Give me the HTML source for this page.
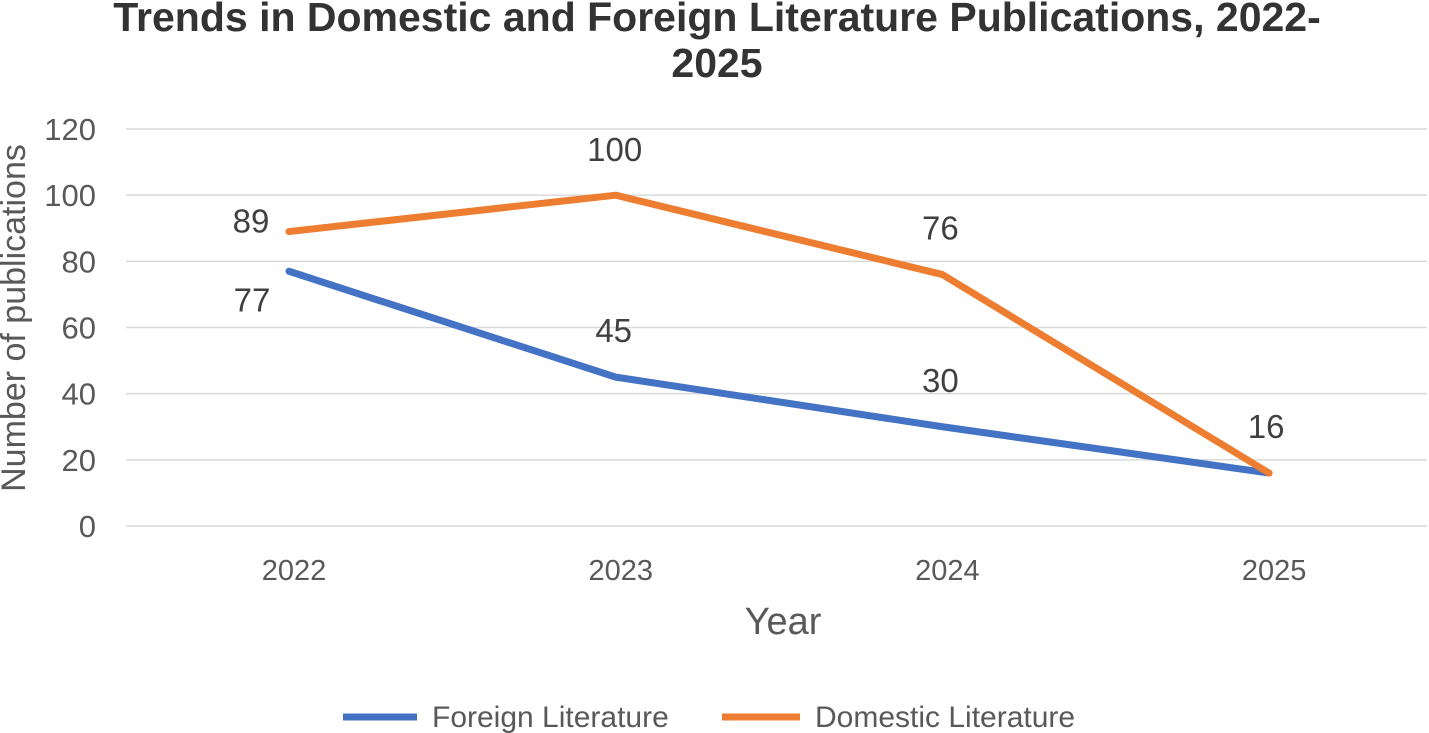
<!DOCTYPE html>
<html><head><meta charset="utf-8"><style>
html,body{margin:0;padding:0;background:#fff;width:1429px;height:733px;overflow:hidden}
svg{display:block;font-family:"Liberation Sans",sans-serif}
</style></head><body>
<svg id="chart" width="1429" height="733" viewBox="0 0 1429 733">
<text x="717" y="31" text-anchor="middle" font-size="41" font-weight="bold" fill="#333">Trends in Domestic and Foreign Literature Publications, 2022-</text>
<text x="717" y="77" text-anchor="middle" font-size="41" font-weight="bold" fill="#333">2025</text>
<g id="grid"></g><g id="yticks"></g><g id="xticks"></g><g id="series"></g><g id="labels"></g>
<text x="783" y="634" text-anchor="middle" font-size="38" fill="#595959">Year</text>
<text transform="translate(25,318) rotate(-90)" text-anchor="middle" font-size="34" fill="#595959">Number of publications</text>
<g>
<g>
<line x1="343" y1="717" x2="417" y2="717" stroke="#4472C4" stroke-width="7"/>
<text x="432" y="727" font-size="30" fill="#595959">Foreign Literature</text></g>
<g>
<line x1="722" y1="717" x2="800" y2="717" stroke="#ED7D31" stroke-width="7"/>
<text x="815" y="727" font-size="30" fill="#595959">Domestic Literature</text></g>
</g>
</svg>
<script>
const years = ["2022","2023","2024","2025"];
const foreign = [77,45,30,16];
const domestic = [89,100,76,16];
const yTicks = [0,20,40,60,80,100,120];
const NS="http://www.w3.org/2000/svg";
const x = i => 289 + i*326.7;
const y = v => 526 - v*(397/120);
function mk(t,a,p){const e=document.createElementNS(NS,t);for(const k in a)e.setAttribute(k,a[k]);p.appendChild(e);return e;}
const grid=document.getElementById('grid'),yt=document.getElementById('yticks'),xt=document.getElementById('xticks');
yTicks.forEach(v=>{
  const l=mk('line',{x1:126,x2:1427,y1:y(v),y2:y(v),stroke:'#d9d9d9','stroke-width':1.5},grid);
  
  
  const t=mk('text',{x:96,y:y(v)+11,'text-anchor':'end','font-size':31,fill:'#595959'},yt);
  t.textContent=v;
  
  
});
years.forEach((yr,i)=>{
  const t=mk('text',{x:x(i)+5,y:580,'text-anchor':'middle','font-size':29,fill:'#595959'},xt);
  t.textContent=yr;
  
  
});
const S=document.getElementById('series'),L=document.getElementById('labels');
function series(vals,color,name,offs,skip){
  const p=mk('polyline',{points:vals.map((v,i)=>x(i)+','+y(v)).join(' '),fill:'none',stroke:color,'stroke-width':7,'stroke-linejoin':'round','stroke-linecap':'round'},S);
  
  
  vals.forEach((v,i)=>{
    const t=mk('text',{x:x(i)+offs[i][0],y:y(v)+offs[i][1],'text-anchor':'middle','font-size':33,fill:'#404040'},L);
    t.textContent=v;
    if(skip&&skip[i])t.setAttribute('opacity','0');
    
    
  });
}
series(foreign,'#4472C4','foreign',[[-37,40],[-2,-35],[-2,-35],[-2,-35]],[0,0,0,1]);
series(domestic,'#ED7D31','domestic',[[-38,1],[-1,-34],[-2,-35],[-3,-35]]);
</script>
</body></html>
